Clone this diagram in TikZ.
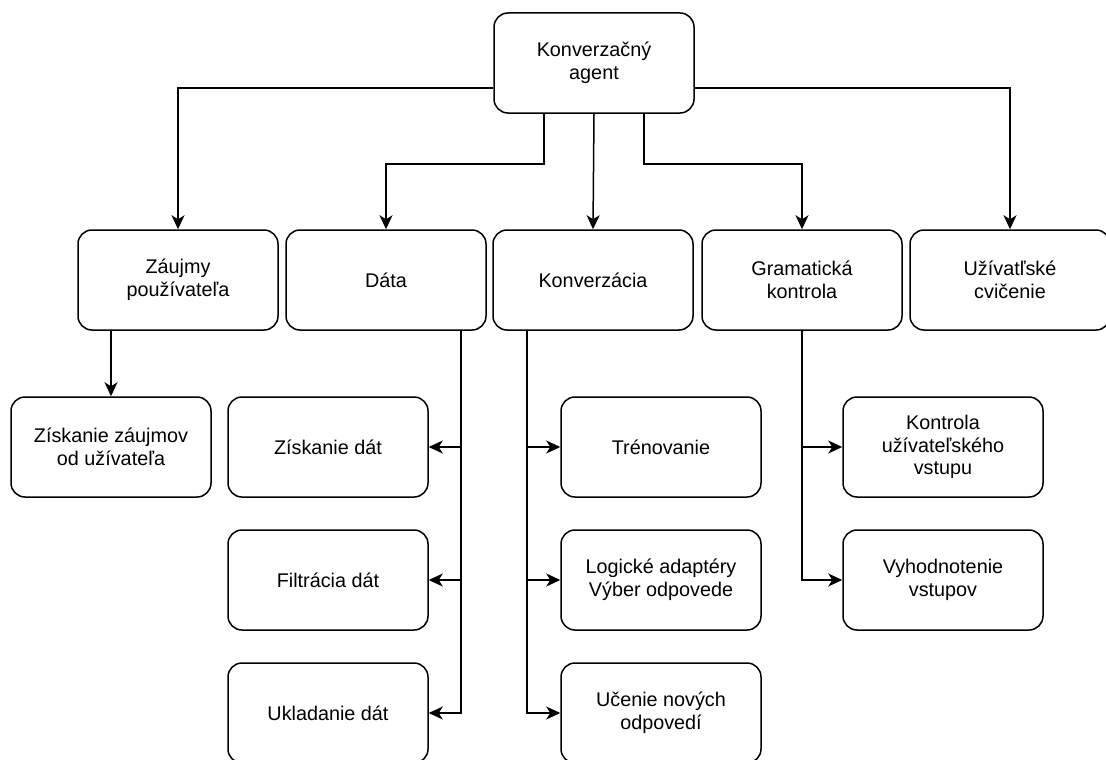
\documentclass[tikz,border=0pt]{standalone}
\usepackage{fontspec}
\setmainfont{Liberation Sans}
\usetikzlibrary{arrows.meta}

\begin{document}
\begin{tikzpicture}[x=1pt,y=-1pt,
  box/.style={draw, black, line width=1.5pt, rounded corners=14pt, minimum width=200pt, minimum height=100pt, align=center, inner sep=2pt, font=\fontsize{19.8}{22.7}\selectfont},
  link/.style={black, line width=1.5pt},
  arr/.style={link, -{Stealth[length=14pt,width=13pt,inset=4pt]}}]
      \useasboundingbox (0,0) rectangle (1106,760);
      \clip (0,0) rectangle (1106,760);
      \node [box] (agent) at (594,63) {Konverzačný\\agent};
      \node [box] (zaujmy) at (178,280) {Záujmy\\používateľa};
      \node [box] (data) at (386,280) {Dáta};
      \node [box] (konv) at (593,280) {Konverzácia};
      \node [box] (gram) at (802,280) {Gramatická\\kontrola};
      \node [box] (uziv) at (1010,280) {Užívatľské\\cvičenie};
      \node [box] (ziskzaujm) at (111,447) {Získanie záujmov\\od užívateľa};
      \node [box] (ziskdat) at (328,447) {Získanie dát};
      \node [box] (filtr) at (328,580) {Filtrácia dát};
      \node [box] (uklad) at (328,713) {Ukladanie dát};
      \node [box] (tren) at (661,447) {Trénovanie};
      \node [box] (logic) at (661,580) {Logické adaptéry\\Výber odpovede};
      \node [box] (ucenie) at (661,713) {Učenie nových\\odpovedí};
      \node [box] (kontr) at (943,447) {Kontrola\\užívateľského\\vstupu};
      \node [box] (vyhod) at (943,580) {Vyhodnotenie\\vstupov};
      \coordinate (dbus) at ([xshift=75pt]data.south);
      \coordinate (kbus) at ([xshift=-66pt]konv.south);
      \draw [arr] ([yshift=-25pt]agent.west) -| (zaujmy.north);
      \draw [arr] ([yshift=-25pt]agent.east) -| (uziv.north);
      \draw [arr] ([xshift=-50pt]agent.south) -- ++(0,50) -| (data.north);
      \draw [arr] (agent.south) -- (konv.north);
      \draw [arr] ([xshift=50pt]agent.south) -- ++(0,50) -| (gram.north);
      \draw [arr] (zaujmy.south -| ziskzaujm.north) -- (ziskzaujm.north);
      \draw [arr] (dbus) |- (uklad.east);
      \draw [arr] (dbus |- ziskdat.east) -- (ziskdat.east);
      \draw [arr] (dbus |- filtr.east) -- (filtr.east);
      \draw [arr] (kbus) |- (ucenie.west);
      \draw [arr] (kbus |- tren.west) -- (tren.west);
      \draw [arr] (kbus |- logic.west) -- (logic.west);
      \draw [arr] (gram.south) |- (vyhod.west);
      \draw [arr] (gram.south |- kontr.west) -- (kontr.west);
\end{tikzpicture}
\end{document}
